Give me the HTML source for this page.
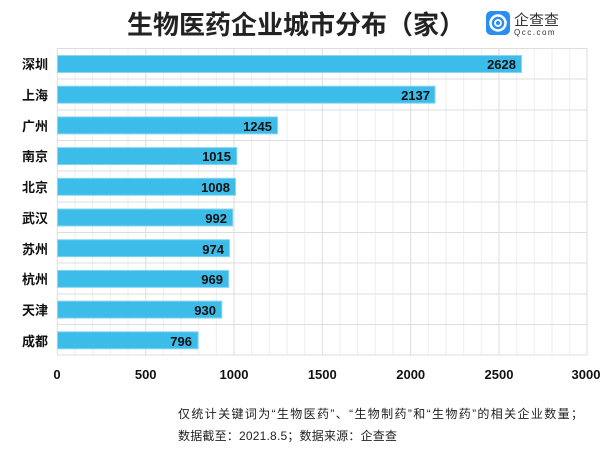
<!DOCTYPE html>
<html><head><meta charset="utf-8"><style>
body{margin:0;background:#fff;width:606px;height:452px;overflow:hidden;font-family:"Liberation Sans","Noto Sans CJK SC",sans-serif;}
</style></head><body>
<svg width="606" height="452" xmlns="http://www.w3.org/2000/svg" style="font-family:'Liberation Sans','Noto Sans CJK SC',sans-serif">
<text x="296" y="34" text-anchor="middle" font-size="26" font-weight="bold" fill="#222">生物医药企业城市分布（家）</text>
<rect x="486" y="11" width="24" height="24" rx="5" fill="#2a8ef0"/>
<circle cx="498" cy="23" r="7.5" fill="none" stroke="#fff" stroke-width="2.5"/>
<circle cx="498" cy="23" r="3" fill="none" stroke="#fff" stroke-width="1.8"/>
<text x="514" y="25" font-size="15" fill="#333">企查查</text>
<text x="514" y="35" font-size="8" fill="#333" letter-spacing="1.5">Qcc.com</text>
<g stroke="#eee" stroke-width="1">
<line x1="75" y1="48" x2="75" y2="355"/><line x1="92.7" y1="48" x2="92.7" y2="355"/><line x1="110.3" y1="48" x2="110.3" y2="355"/><line x1="128" y1="48" x2="128" y2="355"/>
<line x1="163.3" y1="48" x2="163.3" y2="355"/><line x1="181" y1="48" x2="181" y2="355"/><line x1="198.7" y1="48" x2="198.7" y2="355"/><line x1="216.3" y1="48" x2="216.3" y2="355"/>
<line x1="251.7" y1="48" x2="251.7" y2="355"/><line x1="269.3" y1="48" x2="269.3" y2="355"/><line x1="287" y1="48" x2="287" y2="355"/><line x1="304.7" y1="48" x2="304.7" y2="355"/>
<line x1="340" y1="48" x2="340" y2="355"/><line x1="357.7" y1="48" x2="357.7" y2="355"/><line x1="375.3" y1="48" x2="375.3" y2="355"/><line x1="393" y1="48" x2="393" y2="355"/>
<line x1="428.3" y1="48" x2="428.3" y2="355"/><line x1="446" y1="48" x2="446" y2="355"/><line x1="463.7" y1="48" x2="463.7" y2="355"/><line x1="481.3" y1="48" x2="481.3" y2="355"/>
<line x1="516.7" y1="48" x2="516.7" y2="355"/><line x1="534.3" y1="48" x2="534.3" y2="355"/><line x1="552" y1="48" x2="552" y2="355"/><line x1="569.7" y1="48" x2="569.7" y2="355"/>
</g>
<g stroke="#ddd" stroke-width="1">
<line x1="57.3" y1="48" x2="57.3" y2="355"/><line x1="145.7" y1="48" x2="145.7" y2="355"/><line x1="234" y1="48" x2="234" y2="355"/><line x1="322.3" y1="48" x2="322.3" y2="355"/><line x1="410.7" y1="48" x2="410.7" y2="355"/><line x1="499" y1="48" x2="499" y2="355"/><line x1="587" y1="48" x2="587" y2="355"/>
<line x1="57" y1="48.5" x2="587" y2="48.5"/><line x1="57" y1="79" x2="587" y2="79"/><line x1="57" y1="110" x2="587" y2="110"/><line x1="57" y1="140.5" x2="587" y2="140.5"/><line x1="57" y1="171" x2="587" y2="171"/><line x1="57" y1="202" x2="587" y2="202"/><line x1="57" y1="232.5" x2="587" y2="232.5"/><line x1="57" y1="263" x2="587" y2="263"/><line x1="57" y1="294" x2="587" y2="294"/><line x1="57" y1="324.5" x2="587" y2="324.5"/><line x1="57" y1="355" x2="587" y2="355"/>
</g>
<g fill="#3cbce8" stroke="#8ad6f2" stroke-width="1">
<rect x="57.5" y="55.5" width="464" height="17"/>
<rect x="57.5" y="86.2" width="377.5" height="17"/>
<rect x="57.5" y="116.9" width="220" height="17"/>
<rect x="57.5" y="147.6" width="179.3" height="17"/>
<rect x="57.5" y="178.3" width="178" height="17"/>
<rect x="57.5" y="209" width="175.3" height="17"/>
<rect x="57.5" y="239.7" width="172" height="17"/>
<rect x="57.5" y="270.4" width="171.2" height="17"/>
<rect x="57.5" y="301.1" width="164.3" height="17"/>
<rect x="57.5" y="331.8" width="140.6" height="17"/>
</g>
<g font-size="13" font-weight="bold" fill="#111" text-anchor="end">
<text x="516" y="69">2628</text><text x="430" y="100">2137</text><text x="272" y="131">1245</text><text x="231" y="161">1015</text><text x="230" y="192">1008</text><text x="227" y="223">992</text><text x="224" y="254">974</text><text x="223" y="284">969</text><text x="216" y="315">930</text><text x="192" y="346">796</text>
<text x="48" y="69">深圳</text><text x="48" y="100">上海</text><text x="48" y="131">广州</text><text x="48" y="161">南京</text><text x="48" y="192">北京</text><text x="48" y="223">武汉</text><text x="48" y="254">苏州</text><text x="48" y="284">杭州</text><text x="48" y="315">天津</text><text x="48" y="346">成都</text>
</g>
<g font-size="13" font-weight="bold" fill="#111" text-anchor="middle">
<text x="57" y="379">0</text><text x="145.7" y="379">500</text><text x="234" y="379">1000</text><text x="322.3" y="379">1500</text><text x="410.7" y="379">2000</text><text x="499" y="379">2500</text><text x="586" y="379">3000</text>
</g>
<text x="178" y="418" font-size="12" fill="#222" textLength="405" lengthAdjust="spacing">仅统计关键词为“生物医药”、“生物制药”和“生物药”的相关企业数量；</text>
<text x="178" y="440" font-size="12" fill="#222" textLength="219" lengthAdjust="spacing">数据截至：2021.8.5；数据来源：企查查</text>
</svg>
</body></html>
